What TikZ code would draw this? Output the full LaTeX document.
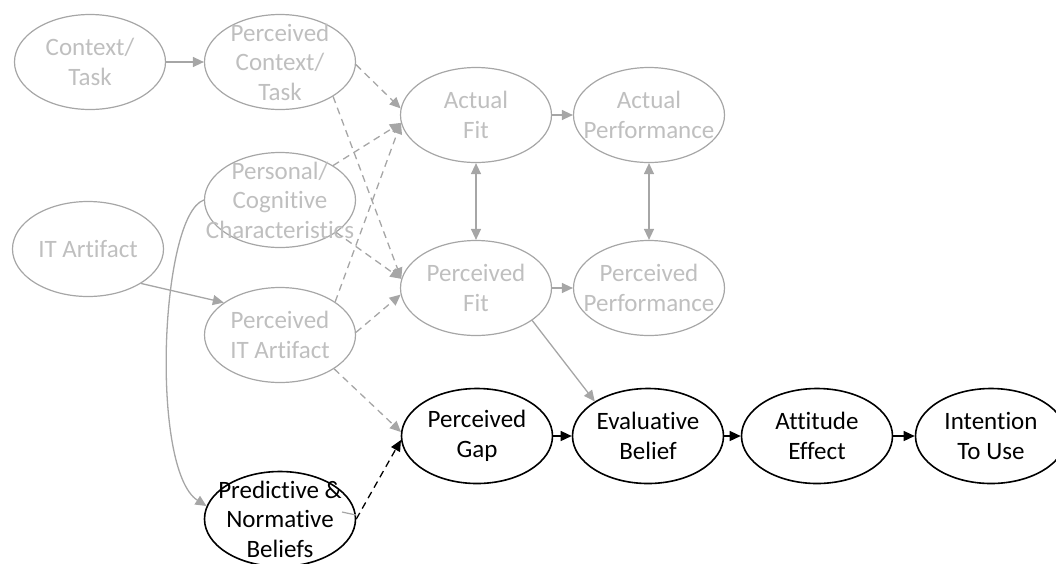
\documentclass[tikz,border=0pt]{standalone}
\usepackage{fontspec}
\setmainfont[Ligatures=NoCommon]{Carlito}
\usepackage{tikz}
\usetikzlibrary{arrows.meta,shapes.geometric}
\definecolor{dim}{HTML}{A6A6A6}
\definecolor{dimtxt}{HTML}{BFBFBF}
\tikzset{
  oval/.style={draw, ellipse, minimum width=151pt, minimum height=95pt, inner sep=0pt, line width=1.6pt},
  dimoval/.style={oval, draw=dim, line width=1.2pt},
  txt/.style={align=center, font=\fontsize{25}{29.5}\selectfont, inner sep=0pt},
  dimtxt/.style={txt, text=dimtxt},
  arr/.style={-{Triangle[length=11pt,width=10pt]}, line width=1.3pt},
  garr/.style={arr, color=dim},
  gdarr/.style={garr, dash pattern=on 7pt off 5pt},
  darr/.style={arr, dash pattern=on 7pt off 5pt},
  biarr/.style={garr, {Triangle[length=11pt,width=10pt]}-{Triangle[length=11pt,width=10pt]}}
}
\begin{document}
\begin{tikzpicture}[x=1pt, y=-1pt]
\useasboundingbox (0,0) rectangle (1056,563);
\node[dimoval] (ctx) at (90,62) {};
\node[dimtxt] at (ctx) {Context/\\Task};
\node[dimoval] (pctx) at (280,62) {};
\node[dimtxt] at (pctx) {Perceived\\Context/\\Task};
\node[dimoval] (itart) at (88,249) {};
\node[dimtxt] at (itart) {IT Artifact};
\node[dimoval] (pers) at (280,200) {};
\node[dimtxt] at (pers) {Personal/\\Cognitive\\Characteristics};
\node[dimoval] (pitart) at (280,335) {};
\node[dimtxt] at (pitart) {Perceived\\IT Artifact};
\node[dimoval] (afit) at (476,115) {};
\node[dimtxt] at (afit) {Actual\\Fit};
\node[dimoval] (aperf) at (649,115) {};
\node[dimtxt] at (aperf) {Actual\\Performance};
\node[dimoval] (pfit) at (476,288) {};
\node[dimtxt] at (pfit) {Perceived\\Fit};
\node[dimoval] (pperf) at (649,288) {};
\node[dimtxt] at (pperf) {Perceived\\Performance};
\node[oval] (pgap) at (477,436) {};
\node[txt] at (pgap) {Perceived\\Gap};
\node[oval] (evb) at (648,436) {};
\node[txt] at (evb) {Evaluative\\Belief};
\node[oval] (att) at (817,436) {};
\node[txt] at (att) {Attitude\\Effect};
\node[oval] (itu) at (991,436) {};
\node[txt] at (itu) {Intention\\To Use};
\node[oval] (pred) at (280,519) {};
\node[txt] at (pred) {Predictive \&\\Normative\\Beliefs};
\coordinate (stub) at (342,512);
\draw[garr] (ctx) -- (pctx);
\draw[garr] (itart.-33) -- (pitart.150);
\draw[garr] (pers.west) .. controls (160,215) and (150,470) .. (pred.170);
\draw[gdarr] (pctx.-2) -- (afit.175);
\draw[gdarr] (pctx.-33) -- (pfit.173);
\draw[gdarr] (pers.33) -- (afit.186);
\draw[gdarr] (pers.-30) -- (pfit.173);
\draw[gdarr] (pitart.31) -- (afit.186);
\draw[gdarr] (pitart.2) -- (pfit.185);
\draw[gdarr] (pitart.-32) -- (pgap.177);
\draw[darr] (pred.east) -- (pgap.183);
\draw[dim, line width=1.2pt] (stub) -- (pred.3);
\draw[garr] (afit) -- (aperf);
\draw[garr] (pfit) -- (pperf);
\draw[biarr] (afit) -- (pfit);
\draw[biarr] (aperf) -- (pperf);
\draw[garr] (pfit.-30) -- (evb.147);
\draw[arr] (pgap) -- (evb);
\draw[arr] (evb) -- (att);
\draw[arr] (att) -- (itu);
\end{tikzpicture}
\end{document}
